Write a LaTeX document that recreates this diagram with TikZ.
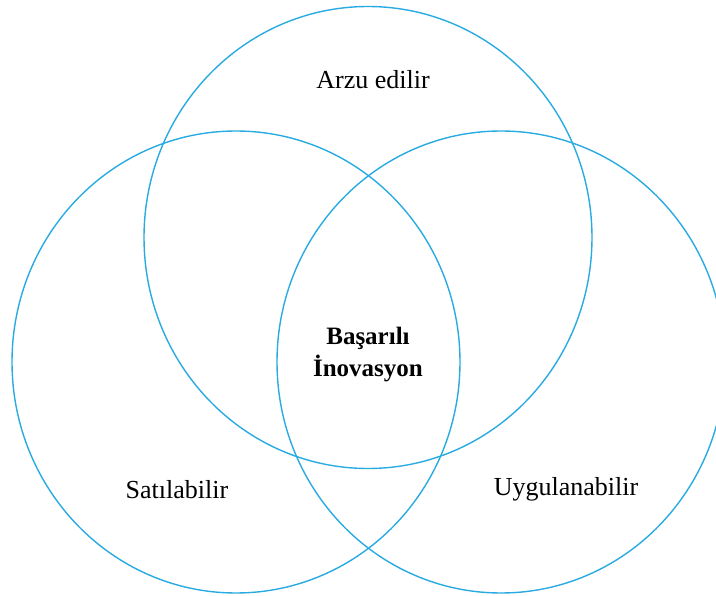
\documentclass[tikz,border=0pt]{standalone}
\usepackage{fontspec}
\setmainfont{Liberation Serif}
\definecolor{ring}{RGB}{41,171,226}
\begin{document}
\begin{tikzpicture}[x=1pt,y=-1pt,
  ring/.style={draw=ring,line width=1.4pt},
  lbl/.style={font=\fontsize{26}{30}\selectfont,inner sep=0pt},
  ctr/.style={font=\fontsize{25}{30}\selectfont\bfseries,inner sep=0pt,align=center}]
\useasboundingbox (0,0) rectangle (716,596);
\begin{scope}
\clip (0,0) rectangle (716,596);
\draw[ring] (368,237.5) ellipse [x radius=224,y radius=231];
\draw[ring] (236,362) ellipse [x radius=224,y radius=231];
\draw[ring] (501,362) ellipse [x radius=224,y radius=231];
\end{scope}
\node[lbl] (a) at (373,80) {Arzu edilir};
\node[lbl] (s) at (177,490) {Satılabilir};
\node[lbl] (u) at (566,489) {Uygulanabilir};
\node[ctr] (c) at (368,355) {Başarılı\\[2pt]İnovasyon};
\end{tikzpicture}
\end{document}
